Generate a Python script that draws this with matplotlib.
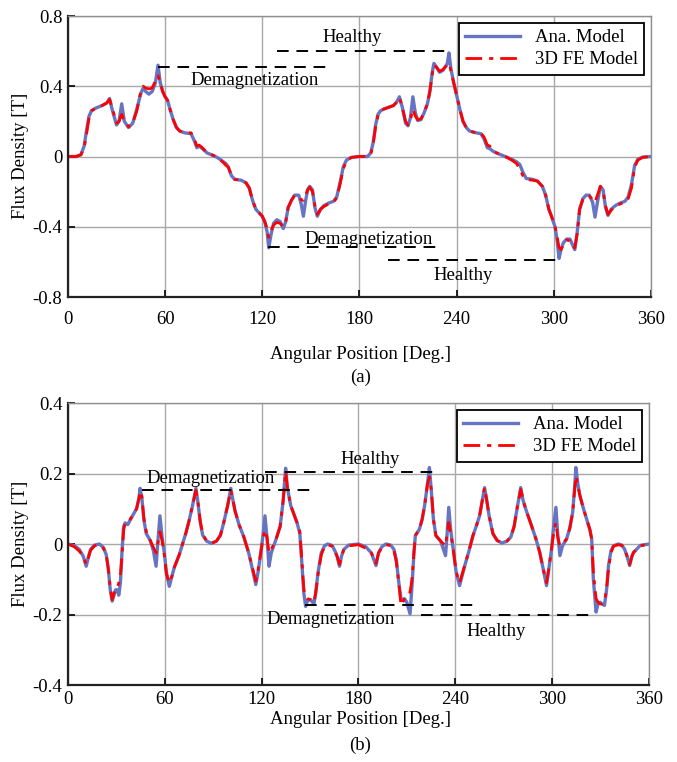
import numpy as np
import matplotlib
matplotlib.use("Agg")
import matplotlib.pyplot as plt

plt.rcParams['font.family'] = ['Liberation Serif', 'DejaVu Serif']
plt.rcParams['axes.unicode_minus'] = False

# ---- (a) flux density, angle [deg] / analytical / 3D FE
ang_a = [0, 5, 8, 10, 11.5, 13, 14.5, 17, 21, 24, 25.7, 27.5, 30, 31.5, 33.2, 34.8, 37.4, 40,
         42.5, 45, 46.5, 48, 50, 52, 54, 55.6, 57, 58.5, 60, 61.5, 63, 65, 67, 69, 72, 76, 78,
         79.6, 81, 83, 86, 90, 93, 96, 97.5, 99, 101, 103, 107, 110, 112, 114, 116, 118, 120,
         121.5, 123, 124, 125.5, 127, 129, 131, 133, 134.5, 136, 138, 140, 142.5, 144, 145.4,
         146.8, 148, 149.3, 151, 152.5, 154, 156, 158, 161, 164, 166, 168, 170, 172, 175, 180,
         185, 187, 188.5, 190, 191.5, 193, 195, 198, 201, 203, 204.7, 206.5, 208.5, 210, 211.5,
         213, 214.5, 216, 218, 220, 222, 223.5, 225, 226, 227.5, 229.5, 231.5, 233, 234.3,
         235.3, 236.5, 238, 240, 242, 244, 246, 248, 252, 255, 257, 259, 260.5, 262.5, 266,
         270, 274, 277, 279, 281, 283, 287, 290, 293, 295, 297, 299, 300.8, 302, 303.3, 304.5,
         306, 308, 310, 311.5, 313, 314.5, 316, 318, 320, 322, 324, 325.5, 327, 328.8, 330.5,
         332, 333.5, 335.5, 338, 341, 344, 346, 348, 350, 352, 355, 360]
ana_a = [0, 0, 0.01, 0.06, 0.15, 0.23, 0.26, 0.275, 0.29, 0.305, 0.33, 0.26, 0.18, 0.2, 0.30,
         0.2, 0.165, 0.19, 0.27, 0.36, 0.39, 0.37, 0.355, 0.37, 0.42, 0.52, 0.42, 0.37, 0.34,
         0.32, 0.27, 0.21, 0.165, 0.145, 0.135, 0.13, 0.09, 0.05, 0.06, 0.045, 0.02, 0.005,
         -0.01, -0.03, -0.04, -0.06, -0.11, -0.13, -0.135, -0.15, -0.18, -0.25, -0.30, -0.32,
         -0.34, -0.37, -0.43, -0.52, -0.44, -0.38, -0.36, -0.37, -0.41, -0.37, -0.29, -0.25,
         -0.22, -0.22, -0.27, -0.34, -0.25, -0.19, -0.17, -0.19, -0.29, -0.34, -0.30, -0.28,
         -0.265, -0.255, -0.23, -0.15, -0.06, -0.02, -0.005, 0,
         0, 0.02, 0.08, 0.18, 0.24, 0.26, 0.27, 0.28, 0.29, 0.31, 0.34, 0.28, 0.19, 0.175,
         0.22, 0.34, 0.25, 0.205, 0.21, 0.25, 0.30, 0.37, 0.48, 0.53, 0.51, 0.48, 0.49, 0.51,
         0.53, 0.59, 0.50, 0.43, 0.35, 0.27, 0.20, 0.165, 0.145, 0.135, 0.13, 0.10, 0.05,
         0.045, 0.03, 0.015, 0.0, -0.015, -0.03, -0.045, -0.09, -0.125, -0.13, -0.14, -0.17,
         -0.22, -0.30, -0.35, -0.40, -0.47, -0.58, -0.53, -0.49, -0.47, -0.47, -0.50, -0.53,
         -0.43, -0.30, -0.24, -0.22, -0.22, -0.26, -0.345, -0.26, -0.17, -0.19, -0.29, -0.335,
         -0.30, -0.28, -0.265, -0.255, -0.23, -0.16, -0.05, -0.015, -0.003, 0]
fe_a = [0, 0, 0.01, 0.05, 0.13, 0.22, 0.26, 0.275, 0.29, 0.305, 0.325, 0.27, 0.19, 0.2, 0.24,
        0.2, 0.17, 0.19, 0.26, 0.37, 0.40, 0.39, 0.385, 0.39, 0.43, 0.46, 0.42, 0.37, 0.34,
        0.32, 0.27, 0.21, 0.165, 0.145, 0.135, 0.135, 0.10, 0.06, 0.065, 0.05, 0.02, 0.005,
        -0.01, -0.035, -0.05, -0.06, -0.11, -0.13, -0.135, -0.15, -0.18, -0.25, -0.30, -0.32,
        -0.34, -0.37, -0.41, -0.46, -0.42, -0.39, -0.375, -0.38, -0.40, -0.37, -0.29, -0.25,
        -0.22, -0.23, -0.245, -0.25, -0.22, -0.19, -0.175, -0.20, -0.28, -0.33, -0.30, -0.285,
        -0.27, -0.26, -0.235, -0.16, -0.07, -0.025, -0.005, 0,
        0, 0.015, 0.07, 0.17, 0.235, 0.26, 0.27, 0.28, 0.29, 0.31, 0.335, 0.28, 0.20, 0.18,
        0.21, 0.27, 0.23, 0.21, 0.215, 0.25, 0.30, 0.37, 0.47, 0.52, 0.51, 0.485, 0.495, 0.51,
        0.52, 0.53, 0.49, 0.43, 0.35, 0.27, 0.20, 0.165, 0.145, 0.135, 0.135, 0.11, 0.065,
        0.06, 0.03, 0.015, 0.0, -0.02, -0.04, -0.07, -0.11, -0.13, -0.135, -0.14, -0.17,
        -0.22, -0.30, -0.35, -0.40, -0.45, -0.52, -0.53, -0.50, -0.475, -0.48, -0.51, -0.52,
        -0.44, -0.30, -0.245, -0.225, -0.225, -0.245, -0.26, -0.22, -0.17, -0.20, -0.28, -0.33,
        -0.305, -0.285, -0.27, -0.26, -0.24, -0.18, -0.06, -0.02, -0.005, 0]

# ---- (b)
ang_b = [0, 4, 7, 9.5, 11.3, 12.5, 14, 16.5, 19.5, 22, 23.7, 25, 26.2, 27.4, 28.5, 29.5, 30.5,
         31.5, 32.5, 33.5, 34.5, 35.5, 37, 40, 42.5, 44, 44.7, 45.8, 47, 48.5, 51, 53, 54.6,
         55.6, 57, 58.3, 59.7, 61, 62.8, 64.5, 66, 69, 71, 73, 75, 77, 78.5, 79.3, 80.5, 82,
         83.5, 86, 89, 92, 94.5, 96.5, 99, 100.9, 102, 103.5, 106, 109, 112, 114.5, 116.4,
         117.8, 119.5, 121, 122.1, 123.3, 124.6, 126, 128.7, 131.5, 133.3, 134.9, 136, 138,
         140, 142, 143.7, 145, 146.2, 147.3, 148.5, 150.4, 152.4, 153.5, 155, 157, 159, 161,
         163.7, 165.5, 166.8, 168.3, 169.5, 171, 174, 180,
         184.6, 188, 190.9, 192.5, 194.5, 197, 200, 202, 203.5, 205, 206.4, 207.5, 208.5, 210,
         212, 213.2, 214.5, 215.3, 217.8, 219.5, 221, 222.8, 224, 225.2, 226.5, 228, 231, 234,
         235, 236, 237.2, 238.5, 240.6, 242.7, 244, 246, 248.5, 251, 253, 255.1, 257, 258.2,
         259.5, 261, 263.4, 266, 269, 272, 274.5, 276.5, 278.5, 280.6, 282, 284, 287.3, 290,
         292.4, 294.5, 296.6, 298, 299.7, 301, 302.4, 303.5, 304.9, 306.5, 309, 311, 312.8,
         314, 314.8, 316, 317.3, 319.5, 321.5, 323.5, 324.6, 325.6, 327.3, 328.5, 329.8, 331,
         332.5, 333.8, 335, 336.5, 338.1, 341, 343.3, 345, 346.4, 348.1, 349.5, 350.5, 354.7,
         360]
ana_b = [0, -0.005, -0.015, -0.035, -0.063, -0.04, -0.015, -0.003, 0, -0.01, -0.03, -0.07,
         -0.13, -0.162, -0.145, -0.13, -0.13, -0.145, -0.11, -0.02, 0.05, 0.06, 0.055, 0.08,
         0.10, 0.13, 0.158, 0.13, 0.07, 0.03, 0.01, -0.02, -0.063, 0.0, 0.08, 0.02, -0.025,
         -0.08, -0.12, -0.09, -0.065, -0.03, 0.0, 0.03, 0.065, 0.105, 0.14, 0.158, 0.12, 0.06,
         0.025, 0.008, 0.002, 0.008, 0.025, 0.06, 0.11, 0.158, 0.13, 0.095, 0.055, 0.02,
         -0.025, -0.075, -0.115, -0.08, -0.025, 0.03, 0.08, 0.02, -0.063, -0.025, 0.01, 0.05,
         0.12, 0.215, 0.16, 0.11, 0.085, 0.06, 0.03, -0.06, -0.14, -0.177, -0.16, -0.158,
         -0.17, -0.14, -0.08, -0.025, -0.005, 0.0, -0.004, -0.02, -0.035, -0.063, -0.035,
         -0.015, -0.003, 0,
         -0.008, -0.025, -0.061, -0.025, -0.008, 0.0, -0.003, -0.015, -0.045, -0.108, -0.155,
         -0.16, -0.155, -0.165, -0.198, -0.12, -0.02, 0.024, 0.042, 0.07, 0.108, 0.17, 0.217,
         0.15, 0.07, 0.024, 0.008, -0.033, 0.03, 0.104, 0.04, -0.005, -0.08, -0.118, -0.095,
         -0.06, -0.02, 0.024, 0.05, 0.08, 0.13, 0.16, 0.125, 0.08, 0.028, 0.01, 0.003, 0.008,
         0.02, 0.05, 0.105, 0.16, 0.125, 0.095, 0.052, 0.015, -0.024, -0.07, -0.118, -0.07,
         -0.014, 0.05, 0.104, 0.03, -0.033, -0.005, 0.014, 0.045, 0.09, 0.16, 0.217, 0.17,
         0.137, 0.1, 0.07, 0.04, 0.014, -0.099, -0.193, -0.17, -0.165, -0.17, -0.174, -0.13,
         -0.061, -0.02, -0.005, 0.0, -0.003, -0.015, -0.033, -0.061, -0.035, -0.024, -0.004, 0]
fe_b = [0, -0.008, -0.02, -0.035, -0.058, -0.04, -0.018, -0.005, -0.002, -0.012, -0.03,
        -0.07, -0.125, -0.158, -0.14, -0.128, -0.125, -0.11, -0.09, -0.03, 0.04, 0.06, 0.06,
        0.08, 0.10, 0.13, 0.15, 0.135, 0.075, 0.035, 0.01, -0.01, -0.025, 0.0, 0.035, 0.01,
        -0.03, -0.085, -0.11, -0.09, -0.065, -0.03, 0.0, 0.03, 0.065, 0.105, 0.135, 0.152,
        0.12, 0.065, 0.028, 0.008, 0.003, 0.008, 0.025, 0.06, 0.11, 0.152, 0.13, 0.095,
        0.055, 0.02, -0.025, -0.07, -0.105, -0.075, -0.025, 0.02, 0.04, 0.02, -0.025, -0.015,
        0.01, 0.05, 0.12, 0.205, 0.16, 0.11, 0.085, 0.06, 0.035, -0.05, -0.13, -0.15, -0.155,
        -0.158, -0.165, -0.14, -0.085, -0.03, -0.008, -0.003, -0.006, -0.02, -0.035, -0.058,
        -0.035, -0.015, -0.005, -0.002,
        -0.012, -0.025, -0.055, -0.025, -0.01, -0.002, -0.004, -0.018, -0.05, -0.11, -0.174,
        -0.165, -0.155, -0.145, -0.137, -0.1, -0.02, 0.024, 0.042, 0.07, 0.108, 0.17, 0.19,
        0.155, 0.07, 0.024, 0.008, -0.005, 0.03, 0.061, 0.03, -0.005, -0.08, -0.11, -0.09,
        -0.06, -0.02, 0.024, 0.05, 0.08, 0.13, 0.16, 0.125, 0.08, 0.03, 0.01, 0.003, 0.008,
        0.02, 0.05, 0.105, 0.155, 0.125, 0.095, 0.052, 0.015, -0.024, -0.07, -0.11, -0.07,
        -0.014, 0.03, 0.061, 0.02, -0.005, 0.0, 0.014, 0.045, 0.09, 0.15, 0.193, 0.165, 0.137,
        0.1, 0.07, 0.04, 0.014, -0.08, -0.155, -0.165, -0.17, -0.17, -0.162, -0.13, -0.07,
        -0.025, -0.006, -0.002, -0.004, -0.015, -0.033, -0.058, -0.035, -0.024, -0.005, 0]

# annotations: (text, text_x, text_y, line_x0, line_x1, line_y)
notes_a = [("Healthy", 175.5, 0.68, 129, 235.3, 0.60),
           ("Demagnetization", 115, 0.43, 55.6, 162, 0.51),
           ("Demagnetization", 186, -0.47, 123.5, 230, -0.515),
           ("Healthy", 244, -0.675, 197.6, 304, -0.59)]
notes_b = [("Healthy", 187, 0.24, 122, 226.8, 0.203),
           ("Demagnetization", 88.6, 0.186, 46, 151, 0.153),
           ("Demagnetization", 163, -0.214, 147, 251, -0.174),
           ("Healthy", 265.6, -0.248, 219, 324.6, -0.2)]

BLUE = '#6674c4'
RED = '#ff0000'
FS = 13.5

fig = plt.figure(figsize=(6.77, 7.62), dpi=100)
ax1 = fig.add_axes([0.1004, 0.6102, 0.861, 0.3688])
ax2 = fig.add_axes([0.1004, 0.1010, 0.858, 0.3701])

def style_axes(ax, ylim, yticks, ylabels, xpad):
    ax.set_xlim(0, 360)
    ax.set_ylim(*ylim)
    ax.set_xticks([0, 60, 120, 180, 240, 300, 360])
    ax.set_yticks(yticks)
    ax.set_yticklabels(ylabels)
    ax.grid(True, color='#a8a8a8', linewidth=1.0)
    ax.tick_params(direction='in', length=5, width=1.2, labelsize=FS, pad=4,
                   top=False, right=False)
    ax.tick_params(axis='x', pad=xpad)
    for s in ('left', 'bottom'):
        ax.spines[s].set_linewidth(1.6)
        ax.spines[s].set_color('#222222')
    for s in ('top', 'right'):
        ax.spines[s].set_linewidth(1.0)
        ax.spines[s].set_color('#909090')
    ax.set_axisbelow(True)

def draw(ax, ang, ana, fe, notes):
    ax.plot(ang, ana, color=BLUE, lw=2.4, label='Ana. Model', solid_joinstyle='round')
    ax.plot(ang, fe, color=RED, lw=2.0, dashes=(6, 2.5, 1.5, 2.5), label='3D FE Model')
    for txt, tx, ty, x0, x1, ly in notes:
        ax.plot([x0, x1], [ly, ly], color='black', lw=1.4, dashes=(6, 4))
        ax.text(tx, ty, txt, ha='center', va='center', fontsize=FS)
    leg = ax.legend(loc='upper right', fontsize=FS, frameon=True, fancybox=False,
                    edgecolor='black', framealpha=1, handlelength=2.9,
                    borderpad=0.35, labelspacing=0.25, handletextpad=0.8,
                    borderaxespad=0.35)
    leg.get_frame().set_linewidth(1.3)

style_axes(ax1, (-0.8, 0.8), [-0.8, -0.4, 0, 0.4, 0.8], ['-0.8', '-0.4', '0', '0.4', '0.8'], 10)
style_axes(ax2, (-0.4, 0.4), [-0.4, -0.2, 0, 0.2, 0.4], ['-0.4', '-0.2', '0', '0.2', '0.4'], 4)
draw(ax1, ang_a, ana_a, fe_a, notes_a)
draw(ax2, ang_b, ana_b, fe_b, notes_b)

fig.text(0.030, 1 - 156 / 762, 'Flux Density [T]', rotation=90, ha='center', va='center', fontsize=FS)
fig.text(0.030, 1 - 544 / 762, 'Flux Density [T]', rotation=90, ha='center', va='center', fontsize=FS)
fig.text(0.532, 1 - 354 / 762, 'Angular Position [Deg.]', ha='center', va='center', fontsize=FS)
fig.text(0.532, 1 - 377 / 762, '(a)', ha='center', va='center', fontsize=FS)
fig.text(0.532, 1 - 720 / 762, 'Angular Position [Deg.]', ha='center', va='center', fontsize=FS)
fig.text(0.532, 1 - 745 / 762, '(b)', ha='center', va='center', fontsize=FS)

fig.savefig('out.png', dpi=100)
